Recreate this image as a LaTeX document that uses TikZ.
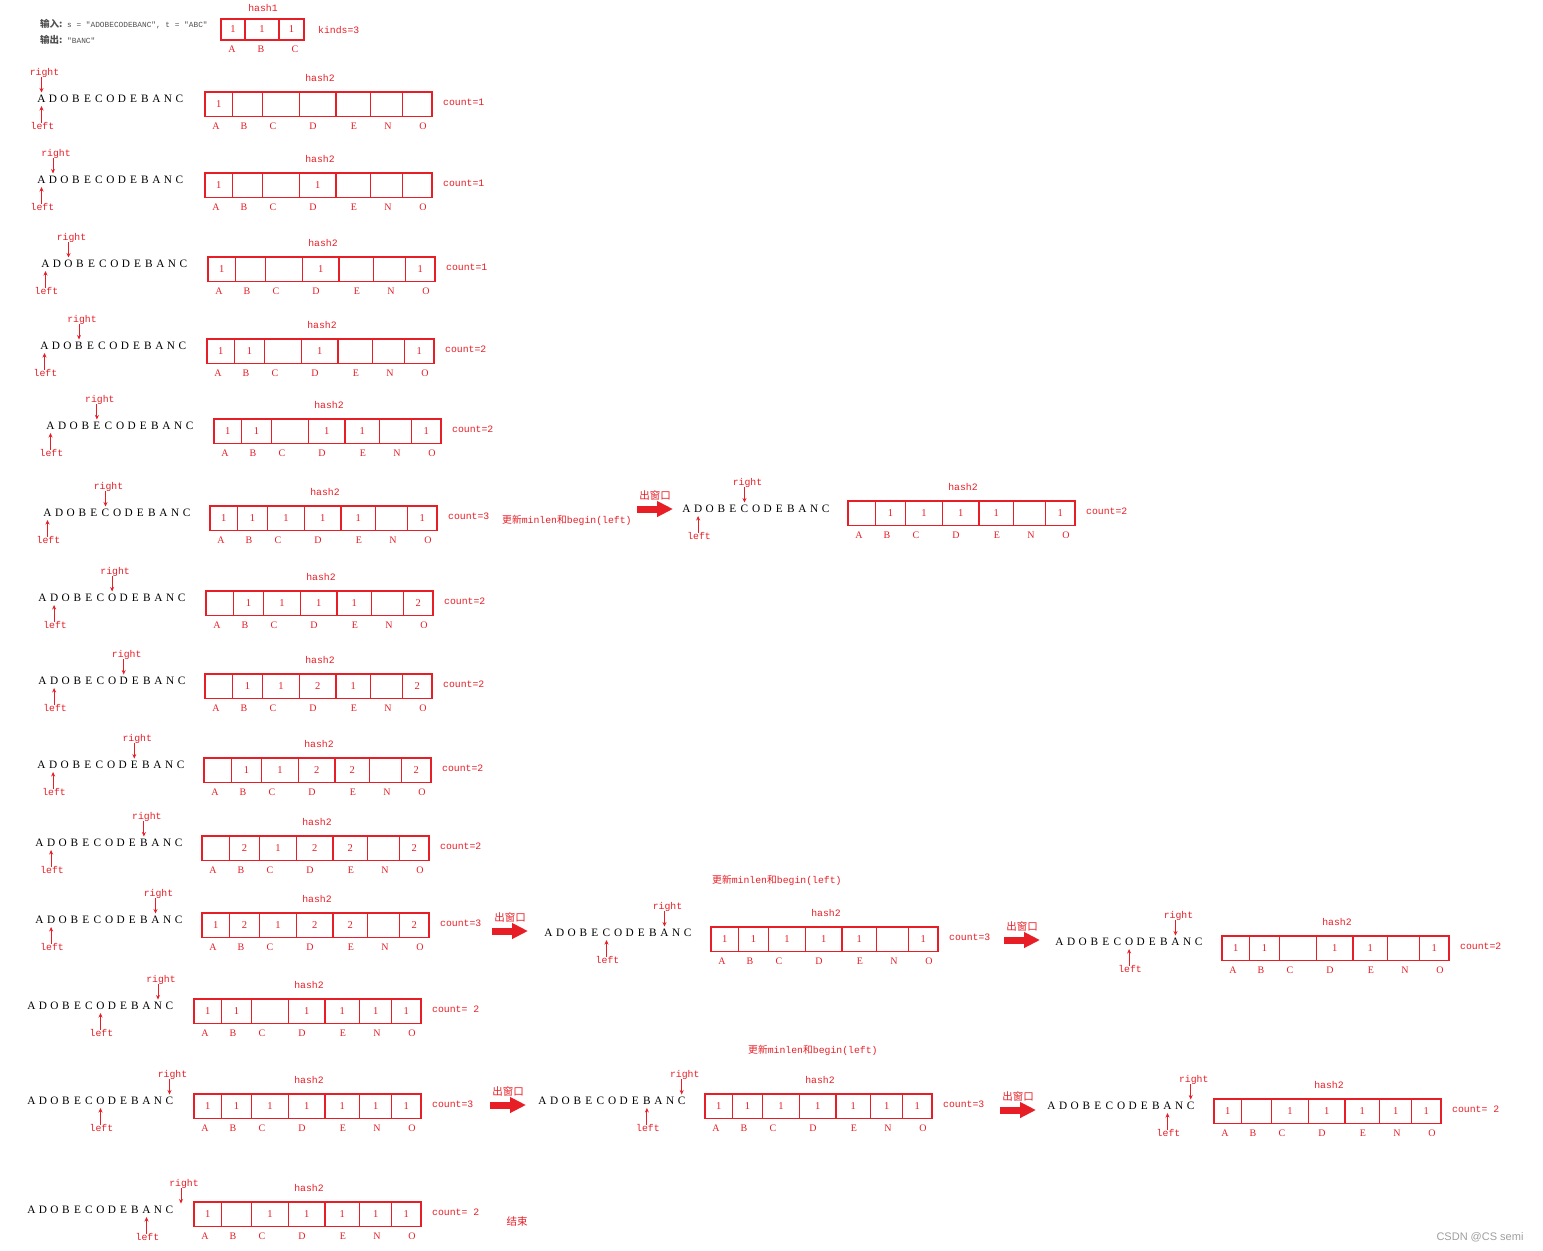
\documentclass[tikz,border=0pt]{standalone}
\usepackage{fontspec}
\setmainfont{Liberation Serif}
\setmonofont{Liberation Mono}
\newfontfamily\cjk{Noto Sans CJK SC}
\newfontfamily\wmfont{Liberation Sans}
\usetikzlibrary{calc,arrows.meta}
\definecolor{myred}{RGB}{232,30,38}
\definecolor{inkgray}{RGB}{80,80,80}

\newcommand\cv[1]{\if x#1\else #1\fi}
\newcommand\colname[1]{\ifcase#1 A\or B\or C\or D\or E\or N\or O\fi}

% string of letters: name, left x, centre y, spacing
\newcommand\strrow[4]{%
  \foreach \ch [count=\i from 0] in {A,D,O,B,E,C,O,D,E,B,A,N,C}
    {\node[letter] (#1-\i) at ({#2+3.5+\i*#4},#3) {\ch};}
  \coordinate (#1-13) at ({#2+3.5+13*#4},#3);
}
% right / left pointers: name, right index, left index
\newcommand\ptrs[3]{%
  \node[lab] (#1-rt) at ($(#1-#2)+(3,-26)$) {right};
  \draw[ptr] (#1-rt.south -| #1-#2) -- ($(#1-#2)+(0,-6.5)$);
  \node[lab] (#1-lt) at ($(#1-#3)+(1,28)$) {left};
  \draw[ptr] (#1-lt.north -| #1-#3) -- ($(#1-#3)+(0,7)$);
}
% hash2 table: name, left x, top y, values, count text
\newcommand\hashrow[5]{%
  \node[lab] (#1-h) at (#2+115,#3-13) {hash2};
  \foreach \v [count=\i from 0] in {#4} {
    \pgfmathsetmacro\cx{{13.65,42.5,76,112.65,148.35,181.7,212.35}[\i]}
    \pgfmathsetmacro\cw{{27.3,30.4,36.6,36.7,34.7,32,29.3}[\i]}
    \pgfmathsetmacro\lx{{11,39,68,108,149,183,218}[\i]}
    \node[hcell,minimum width=\cw pt] (#1-c\i) at (#2+\cx,#3+12.15) {\cv{\v}};
    \node[clab] (#1-l\i) at (#2+\lx,#3+34) {\colname{\i}};
  }
  \node[lab,anchor=west] (#1-cnt) at (#2+238,#3+11.5) {#5};
}
% big arrow "出窗口": name, start x, y
\newcommand\outarrow[3]{%
  \coordinate (#1-s) at (#2,#3);
  \coordinate (#1-e) at (#2+36,#3);
  \draw[bigarrow] (#1-s) -- (#1-e);
  \node[cjklab] (#1-l) at (#2+18,#3-14) {出窗口};
}

\begin{document}
\begin{tikzpicture}[x=1pt,y=-1pt,
  letter/.style={font=\fontsize{11.3}{12}\selectfont, inner xsep=0pt, inner ysep=3pt, text height=7pt, text depth=0pt},
  lab/.style={font=\ttfamily\fontsize{9.8}{11}\selectfont, text=myred, inner sep=0pt, text height=6pt, text depth=2pt},
  hcell/.style={draw=myred, line width=1.3pt, minimum height=24.3pt, inner sep=0pt, font=\fontsize{10.5}{12}\selectfont, text=myred},
  clab/.style={font=\fontsize{10}{11}\selectfont, text=myred, inner sep=0pt},
  ptr/.style={myred, line width=0.9pt, -{Stealth[length=4.5pt,width=4pt]}},
  bigarrow/.style={myred, line width=7pt, -{Triangle[length=16pt,width=15pt]}},
  cjklab/.style={font=\cjk\fontsize{10.5}{12}\selectfont, text=myred, inner sep=0pt},
  upd/.style={font=\cjk\fontsize{9.8}{12}\selectfont, text=myred, inner sep=0pt, anchor=west}
]
\fill[white] (0,0) rectangle (1543,1251);
\useasboundingbox (0,0) rectangle (1543,1251);

% ---- header ----
\node[anchor=west, inner sep=0pt, text=inkgray] (inp) at (40,24)
  {{\cjk\bfseries\fontsize{9.5}{11}\selectfont 输入:}{\ttfamily\fontsize{7.8}{10}\selectfont\ s = "ADOBECODEBANC", t = "ABC"}};
\node[anchor=west, inner sep=0pt, text=inkgray] (outp) at (40,40)
  {{\cjk\bfseries\fontsize{9.5}{11}\selectfont 输出:}{\ttfamily\fontsize{7.8}{10}\selectfont\ "BANC"}};
\node[lab] (h1) at (263,9) {hash1};
\node[hcell, minimum width=24pt, minimum height=21pt] (h1-0) at (233,29.5) {1};
\node[hcell, minimum width=34pt, minimum height=21pt] (h1-1) at (262,29.5) {1};
\node[hcell, minimum width=25pt, minimum height=21pt] (h1-2) at (291.5,29.5) {1};
\node[clab] (h1-l0) at (232,49) {A};
\node[clab] (h1-l1) at (261,49) {B};
\node[clab] (h1-l2) at (295,49) {C};
\node[lab, anchor=west] (kinds) at (318,31) {kinds=3};

% ---- rows ----
\strrow{s1}{38}{99}{11.5}\ptrs{s1}{0}{0}
\hashrow{t1}{205}{92}{1,x,x,x,x,x,x}{count=1}

\strrow{s2}{38}{180}{11.5}\ptrs{s2}{1}{0}
\hashrow{t2}{205}{173}{1,x,x,1,x,x,x}{count=1}

\strrow{s3}{42}{264}{11.5}\ptrs{s3}{2}{0}
\hashrow{t3}{208}{257}{1,x,x,1,x,x,1}{count=1}

\strrow{s4}{41}{346}{11.5}\ptrs{s4}{3}{0}
\hashrow{t4}{207}{339}{1,1,x,1,x,x,1}{count=2}

\strrow{s5}{47}{426}{11.6}\ptrs{s5}{4}{0}
\hashrow{t5}{214}{419}{1,1,x,1,1,x,1}{count=2}

\strrow{s6}{44}{513}{11.6}\ptrs{s6}{5}{0}
\hashrow{t6}{210}{506}{1,1,1,1,1,x,1}{count=3}
\node[upd] (u6) at (502,520) {更新{\ttfamily minlen}和{\ttfamily begin(left)}};
\outarrow{a6}{637}{509}
\strrow{s6b}{683}{509}{11.6}\ptrs{s6b}{5}{1}
\hashrow{t6b}{848}{501}{x,1,1,1,1,x,1}{count=2}

\strrow{s7}{39}{598}{11.6}\ptrs{s7}{6}{1}
\hashrow{t7}{206}{591}{x,1,1,1,1,x,2}{count=2}

\strrow{s8}{39}{681}{11.6}\ptrs{s8}{7}{1}
\hashrow{t8}{205}{674}{x,1,1,2,1,x,2}{count=2}

\strrow{s9}{38}{765}{11.6}\ptrs{s9}{8}{1}
\hashrow{t9}{204}{758}{x,1,1,2,2,x,2}{count=2}

\strrow{s10}{36}{843}{11.6}\ptrs{s10}{9}{1}
\hashrow{t10}{202}{836}{x,2,1,2,2,x,2}{count=2}

\strrow{s11}{36}{920}{11.6}\ptrs{s11}{10}{1}
\hashrow{t11}{202}{913}{1,2,1,2,2,x,2}{count=3}
\outarrow{a11}{492}{931}
\strrow{s11b}{545}{933}{11.6}\ptrs{s11b}{10}{5}
\hashrow{t11b}{711}{927}{1,1,1,1,1,x,1}{count=3}
\node[upd] (u11) at (712,880) {更新{\ttfamily minlen}和{\ttfamily begin(left)}};
\outarrow{a11b}{1004}{940}
\strrow{s11c}{1056}{942}{11.6}\ptrs{s11c}{10}{6}
\hashrow{t11c}{1222}{936}{1,1,x,1,1,x,1}{count=2}

\strrow{s12}{28}{1006}{11.5}\ptrs{s12}{11}{6}
\hashrow{t12}{194}{999}{1,1,x,1,1,1,1}{count= 2}

\strrow{s13}{28}{1101}{11.5}\ptrs{s13}{12}{6}
\hashrow{t13}{194}{1094}{1,1,1,1,1,1,1}{count=3}
\outarrow{a13}{490}{1105}
\strrow{s13b}{539}{1101}{11.6}\ptrs{s13b}{12}{9}
\hashrow{t13b}{705}{1094}{1,1,1,1,1,1,1}{count=3}
\node[upd] (u13) at (748,1050) {更新{\ttfamily minlen}和{\ttfamily begin(left)}};
\outarrow{a13b}{1000}{1110}
\strrow{s13c}{1048}{1106}{11.6}\ptrs{s13c}{12}{10}
\hashrow{t13c}{1214}{1099}{1,x,1,1,1,1,1}{count= 2}

\strrow{s14}{28}{1210}{11.5}\ptrs{s14}{13}{10}
\hashrow{t14}{194}{1202}{1,x,1,1,1,1,1}{count= 2}
\node[cjklab] (end) at (517,1221) {结束};

% ---- watermark ----
\node[font=\wmfont\fontsize{11}{13}\selectfont, text=gray!75, inner sep=0pt] (wm) at (1480,1237) {CSDN @CS semi};
\end{tikzpicture}
\end{document}
